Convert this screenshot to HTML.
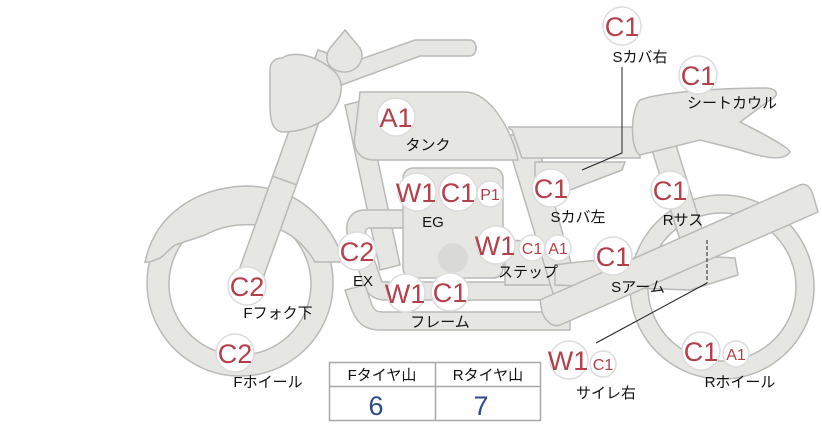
<!DOCTYPE html>
<html><head><meta charset="utf-8"><style>
html,body{margin:0;padding:0;background:#fff;}
svg{display:block;font-family:"Liberation Sans","Noto Sans CJK JP",sans-serif;}
.p{fill:#e6e6e3;stroke:#b9b9b7;stroke-width:1.5;}
.b{fill:#fff;stroke:#dcdcdc;stroke-width:1.5;}
.r{fill:#b3404a;text-anchor:middle;}
.k{fill:#111;font-size:15px;text-anchor:middle;}
</style></head><body>
<svg width="822" height="425" viewBox="0 0 822 425">
<path class="p" fill-rule="evenodd" d="M240,190 a93,93 0 1,0 0.1,0 Z M240,213 a71,71 0 1,1 -0.1,0 Z"/>
<path class="p" d="M145,262 C155,215 195,188 245,186 C290,186 325,210 345,262 L315,262 C305,245 290,232 275,228 C250,222 225,224 205,235 L175,245 C168,250 165,255 160,258 L150,262 Z"/>
<path class="p" fill-rule="evenodd" d="M722,195 a92,92 0 1,0 0.1,0 Z M722,213 a74,74 0 1,1 -0.1,0 Z"/>
<path class="p" d="M345,105 L365,100 L400,265 L380,270 Z"/>
<path class="p" d="M560,300 L385,300 C372,300 365,292 362,280 L348,238 C344,222 350,210 365,210 L410,210 L410,228 L370,228 C365,228 365,232 366,236 L382,282 L560,282 Z"/>
<path class="p" d="M570,330 L380,330 C362,330 355,320 350,305 L345,290 L365,285 L372,305 C375,312 378,312 385,312 L570,312 Z"/>
<rect class="p" x="403" y="168" width="100" height="110" rx="10"/>
<circle cx="453" cy="258" r="15" fill="#d9d9d8"/>
<path class="p" d="M505,240 L565,243 L565,285 L505,285 Z"/>
<path class="p" d="M505,135 L535,135 L580,295 L555,300 Z"/>
<path class="p" d="M652,150 L676,145 L704,235 L680,240 Z"/>
<path class="p" d="M555,265 C600,258 680,255 735,258 L738,275 L690,290 L555,285 Z"/>
<path class="p" d="M540,300 L800,185 C808,182 812,190 814,198 L818,212 L560,325 C552,328 545,320 542,312 Z"/>
<path class="p" d="M318,50 L342,58 L258,292 L234,284 Z"/>
<path d="M272,176 L297,185" stroke="#b9b9b7" stroke-width="1.5"/>
<path class="p" d="M330,70 L415,40 L470,40 C478,40 478,56 470,56 L420,56 L336,87 Z"/>
<path class="p" d="M345,30 L360,48 C366,58 358,72 345,72 C330,72 322,60 330,48 Z"/>
<path class="p" d="M282,58 C295,50 318,56 335,72 C345,82 342,100 332,112 C322,125 300,132 282,132 C272,130 270,120 270,105 L270,70 C270,62 275,58 282,58 Z"/>
<path class="p" d="M360,92 L465,92 C490,92 512,130 518,160 L375,160 C360,160 352,150 355,135 Z"/>
<path class="p" d="M512,130 C505,126 510,127 520,127 L640,127 L640,158 L522,158 Z"/>
<path class="p" d="M535,162 L625,162 L622,170 L570,190 L535,192 Z"/>
<path class="p" d="M640,100 C660,92 720,88 765,88 C778,88 780,96 770,100 L740,122 C760,132 790,148 790,152 C785,160 770,160 740,150 L700,140 L640,155 C630,150 630,110 640,100 Z"/>
<path d="M622,67 L622,153 L582,170" fill="none" stroke="#222" stroke-width="1"/>
<path d="M707,240 L707,283" fill="none" stroke="#222" stroke-width="1" stroke-dasharray="4,2"/>
<path d="M707,283 L596,343" fill="none" stroke="#222" stroke-width="1"/>
<g>
<circle class="b" cx="622" cy="26" r="19"/><text class="r" x="622" y="36" font-size="27">C1</text>
<circle class="b" cx="698" cy="75" r="19"/><text class="r" x="698" y="85" font-size="27">C1</text>
<circle class="b" cx="396" cy="117" r="19"/><text class="r" x="396" y="127" font-size="27">A1</text>
<circle class="b" cx="417" cy="192" r="19"/><text class="r" x="416" y="202" font-size="27">W1</text>
<circle class="b" cx="458" cy="192" r="19"/><text class="r" x="458" y="202" font-size="27">C1</text>
<circle class="b" cx="490" cy="194" r="13"/><text class="r" x="490" y="200" font-size="16">P1</text>
<circle class="b" cx="551" cy="188" r="19"/><text class="r" x="551" y="198" font-size="27">C1</text>
<circle class="b" cx="670" cy="190" r="19"/><text class="r" x="670" y="200" font-size="27">C1</text>
<circle class="b" cx="357" cy="251" r="19"/><text class="r" x="357" y="261" font-size="27">C2</text>
<circle class="b" cx="496" cy="245" r="19"/><text class="r" x="495" y="255" font-size="27">W1</text>
<circle class="b" cx="532" cy="248" r="13"/><text class="r" x="532" y="254" font-size="16">C1</text>
<circle class="b" cx="558" cy="248" r="13"/><text class="r" x="558" y="254" font-size="16">A1</text>
<circle class="b" cx="613" cy="256" r="19"/><text class="r" x="613" y="266" font-size="27">C1</text>
<circle class="b" cx="247" cy="286" r="19"/><text class="r" x="247" y="296" font-size="27">C2</text>
<circle class="b" cx="406" cy="293" r="19"/><text class="r" x="405" y="303" font-size="27">W1</text>
<circle class="b" cx="450" cy="292" r="19"/><text class="r" x="450" y="302" font-size="27">C1</text>
<circle class="b" cx="235" cy="353" r="19"/><text class="r" x="235" y="363" font-size="27">C2</text>
<circle class="b" cx="569" cy="360" r="19"/><text class="r" x="568" y="370" font-size="27">W1</text>
<circle class="b" cx="603" cy="364" r="13"/><text class="r" x="603" y="370" font-size="16">C1</text>
<circle class="b" cx="701" cy="351" r="19"/><text class="r" x="701" y="361" font-size="27">C1</text>
<circle class="b" cx="736" cy="354" r="13"/><text class="r" x="736" y="360" font-size="16">A1</text>
</g>
<g>
<text class="k" x="640" y="62">Sカバ右</text>
<text class="k" x="732" y="108">シートカウル</text>
<text class="k" x="428" y="150">タンク</text>
<text class="k" x="433" y="227">EG</text>
<text class="k" x="578" y="222">Sカバ左</text>
<text class="k" x="683" y="225">Rサス</text>
<text class="k" x="363" y="286">EX</text>
<text class="k" x="528" y="277">ステップ</text>
<text class="k" x="638" y="292">Sアーム</text>
<text class="k" x="278" y="318">Fフォク下</text>
<text class="k" x="440" y="327">フレーム</text>
<text class="k" x="268" y="387">Fホイール</text>
<text class="k" x="606" y="398">サイレ右</text>
<text class="k" x="740" y="387">Rホイール</text>
</g>
<rect x="329.5" y="362.5" width="211" height="58" fill="#fff" stroke="#a8a8a8" stroke-width="1.5"/>
<line x1="329.5" y1="386.5" x2="540.5" y2="386.5" stroke="#a8a8a8" stroke-width="1.5"/>
<line x1="435.5" y1="362.5" x2="435.5" y2="420.5" stroke="#a8a8a8" stroke-width="1.5"/>
<text class="k" x="382" y="380">Fタイヤ山</text>
<text class="k" x="488" y="380">Rタイヤ山</text>
<text x="376" y="415" font-size="27" fill="#2c4a8c" text-anchor="middle">6</text>
<text x="481" y="415" font-size="27" fill="#2c4a8c" text-anchor="middle">7</text>
</svg>
</body></html>
